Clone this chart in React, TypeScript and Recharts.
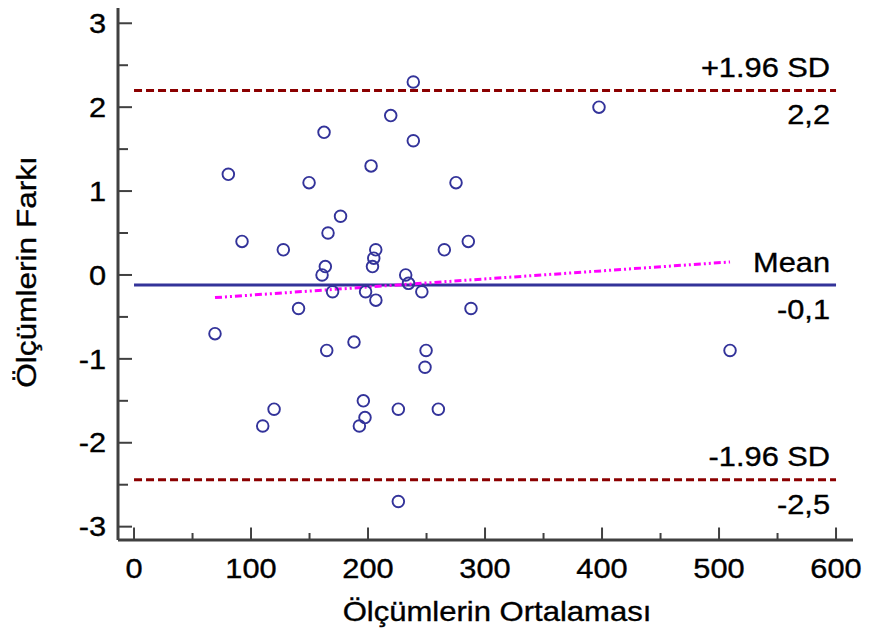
import React from "react";
import {
  ScatterChart,
  Scatter,
  XAxis,
  YAxis,
  ReferenceLine,
} from "recharts";

// mean of the two measurements (x) and their difference (y)
const meanValues = [
  238.7, 397.4, 219.4, 162.4, 238.7, 80.6, 202.6, 149.6, 275.2, 176.5, 165.8,
  92.3, 285.7, 127.6, 206.6, 265.2, 204.9, 203.8, 163.5, 160.7, 232.2, 234.6,
  169.7, 197.9, 246.0, 206.7, 140.6, 288.0, 69.2, 188.0, 164.7, 249.6, 509.4,
  248.7, 196.0, 119.7, 225.9, 260.1, 197.4, 192.6, 110.0, 225.9,
];
const diffValues = [
  2.3, 2.0, 1.9, 1.7, 1.6, 1.2, 1.3, 1.1, 1.1, 0.7, 0.5, 0.4, 0.4, 0.3, 0.3,
  0.3, 0.2, 0.1, 0.1, 0.0, 0.0, -0.1, -0.2, -0.2, -0.2, -0.3, -0.4, -0.4, -0.7,
  -0.8, -0.9, -0.9, -0.9, -1.1, -1.5, -1.6, -1.6, -1.6, -1.7, -1.8, -1.8, -2.7,
];

// limits of agreement
const limitNames = ["+1.96 SD", "Mean", "-1.96 SD"];
const limitValues = [2.2, -0.12, -2.44];
const limitTexts = ["2,2", "-0,1", "-2,5"];

// regression line end points
const regressionX = [69.2, 509.4];
const regressionY = [-0.27, 0.155];

const xTicks = [0, 50, 100, 150, 200, 250, 300, 350, 400, 450, 500, 550, 600];
const yTicks = [-3, -2.5, -2, -1.5, -1, -0.5, 0, 0.5, 1, 1.5, 2, 2.5, 3];

const points = meanValues.map((x, i) => ({ x, y: diffValues[i] }));

const X_DOMAIN: [number, number] = [-13.7, 614.5];
const Y_DOMAIN: [number, number] = [-3.159, 3.182];

const FONT = '"Liberation Sans", Arial, sans-serif';
const AXIS = "#404040";

function Txt({ x, y, anchor = "start", rotate = 0, stretch = 1.14, children }: any) {
  return (
    <text
      transform={`translate(${x},${y}) rotate(${rotate}) scale(${stretch},1)`}
      textAnchor={anchor}
      fontFamily={FONT}
      fontSize={27}
      fill="#000"
      stroke="#000"
      strokeWidth={0.35}
    >
      {children}
    </text>
  );
}

function YTick({ x, y, payload }: any) {
  const v = payload.value;
  const major = Number.isInteger(v);
  return (
    <g>
      <line x1={x} y1={y} x2={x + (major ? 14 : 10)} y2={y} stroke={AXIS} strokeWidth={2} />
      {major && (
        <Txt x={x - 12} y={y + 9.7} anchor="end">
          {String(v)}
        </Txt>
      )}
    </g>
  );
}

function XTick({ x, y, payload }: any) {
  const v = payload.value;
  const major = v % 100 === 0;
  return (
    <g>
      <line x1={x} y1={y} x2={x} y2={y - (major ? 12.5 : 7)} stroke={AXIS} strokeWidth={2} />
      {major && (
        <Txt x={x} y={y + 37.5} anchor="middle">
          {String(v)}
        </Txt>
      )}
    </g>
  );
}

function SideLabel({ viewBox, top, bottom }: any) {
  const right = viewBox.x + viewBox.width - 6;
  const ly = viewBox.y;
  return (
    <g>
      <Txt x={right} y={ly - 13.5} anchor="end">{top}</Txt>
      <Txt x={right} y={ly + 34} anchor="end">{bottom}</Txt>
    </g>
  );
}

function XTitle({ viewBox }: any) {
  return (
    <Txt x={viewBox.x + 379} y={viewBox.y + 81} anchor="middle" stretch={1.15}>
      Ölçümlerin Ortalaması
    </Txt>
  );
}

function YTitle({ viewBox }: any) {
  return (
    <Txt x={viewBox.x + 36} y={272} anchor="middle" rotate={-90} stretch={1.17}>
      Ölçümlerin Farkı
    </Txt>
  );
}

const limitStyles = [
  { stroke: "#8b0000", dash: "8 4" },
  { stroke: "#333399", dash: undefined },
  { stroke: "#8b0000", dash: "8 4" },
];

export default function App() {
  return (
    <div style={{ position: "absolute", left: 0, top: 0, width: 869, height: 635, background: "#fff" }}>
      <ScatterChart width={869} height={635} margin={{ top: 8, right: 16, bottom: 0, left: 0 }}>
        <XAxis
          type="number"
          dataKey="x"
          domain={X_DOMAIN}
          allowDataOverflow
          ticks={xTicks}
          interval={0}
          height={95}
          tickSize={0}
          tickMargin={0}
          tickLine={false}
          axisLine={{ stroke: AXIS, strokeWidth: 3 }}
          tick={<XTick />}
          label={<XTitle />}
        />
        <YAxis
          type="number"
          dataKey="y"
          domain={Y_DOMAIN}
          allowDataOverflow
          ticks={yTicks}
          interval={0}
          width={118}
          tickSize={0}
          tickMargin={0}
          tickLine={false}
          axisLine={{ stroke: AXIS, strokeWidth: 3 }}
          tick={<YTick />}
          label={<YTitle />}
        />
        {limitValues.map((v, i) => (
          <ReferenceLine
            key={limitNames[i]}
            segment={[
              { x: 0, y: v },
              { x: 600, y: v },
            ]}
            stroke={limitStyles[i].stroke}
            strokeWidth={3}
            strokeDasharray={limitStyles[i].dash}
            label={<SideLabel top={limitNames[i]} bottom={limitTexts[i]} />}
          />
        ))}
        <ReferenceLine
          segment={[
            { x: regressionX[0], y: regressionY[0] },
            { x: regressionX[1], y: regressionY[1] },
          ]}
          stroke="#ff00ff"
          strokeWidth={3}
          strokeDasharray="7 3 2 3 2 3"
        />
        <Scatter
          data={points}
          isAnimationActive={false}
          shape={(p: any) => (
            <circle cx={p.cx} cy={p.cy} r={5.8} fill="none" stroke="#33339a" strokeWidth={1.9} />
          )}
        />
      </ScatterChart>
    </div>
  );
}
